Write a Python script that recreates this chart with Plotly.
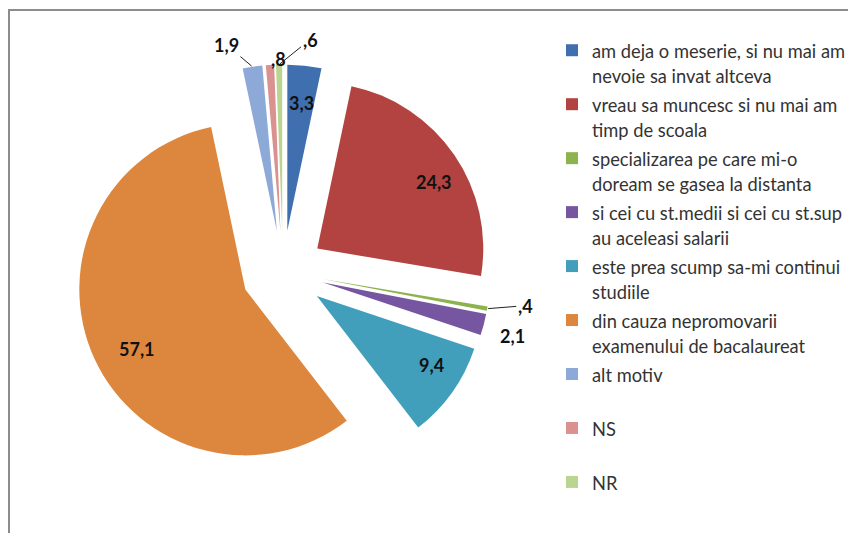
import math
import plotly.graph_objects as go

W, H = 856, 533
OFF = 8  # page margin of the html body

labels = [
    ["am deja o meserie, si nu mai am", "nevoie sa invat altceva"],
    ["vreau sa muncesc si nu mai am", "timp de scoala"],
    ["specializarea pe care mi-o", "doream se gasea la distanta"],
    ["si cei cu st.medii si cei cu st.sup", "au aceleasi salarii"],
    ["este prea scump sa-mi continui", "studiile"],
    ["din cauza nepromovarii", "examenului de bacalaureat"],
    ["alt motiv", " "],
    ["NS", " "],
    ["NR", " "],
]
values = [3.3, 24.3, 0.4, 2.1, 9.4, 57.1, 1.9, 0.8, 0.6]
colors = ["#3F6FAF", "#B34340", "#8DB34F", "#7656A0", "#419FBB",
          "#DC873D", "#8DA9D8", "#D9928F", "#B9D58F"]
# label placement: None = inside end, else (dx, dy, leader line?) from slice tip
label_off = [None, None, (38, -3, True), (29, 11, False), None,
             None, (-26, -22, True), (-1, -19, False), (31, -25, True)]


def fmt(v):
    s = f"{v:.1f}".replace(".", ",")
    return s[1:] if s.startswith("0") else s


def legend_text(lines):
    return "<br>".join("<span style='font-size:18.3px'>%s</span>" % t
                       for t in lines)


# pie box in pixels (page coords minus the body margin)
cx, cy, half, pull = 283 - OFF, 272 - OFF, 207.5, 0.25
r = half / (1 + pull)

fig = go.Figure(go.Pie(
    labels=[legend_text(l) for l in labels], values=values,
    textinfo="none", hoverinfo="percent",
    marker=dict(colors=colors, line=dict(width=0)),
    pull=pull, sort=False, direction="clockwise", rotation=0,
    domain=dict(x=[(cx - half) / W, (cx + half) / W],
                y=[1 - (cy + half) / H, 1 - (cy - half) / H]),
))

# data labels, Excel style (inside end / outside with leader lines)
total = sum(values)
cum = 0
for v, off in zip(values, label_off):
    mid = (cum + v / 2) / total * 2 * math.pi
    cum += v
    dx, dy = math.sin(mid), -math.cos(mid)
    k = pull + (0.85 if off is None else 1.0)
    px_, py_ = cx + k * r * dx, cy + k * r * dy
    ann = dict(x=px_ / W, y=1 - py_ / H, xref="paper", yref="paper",
               text="<b>%s</b>" % fmt(v), showarrow=False,
               font=dict(family="Lato", size=18, color="#111111"))
    if off is not None:
        ox, oy, leader = off
        if leader:
            ann.update(showarrow=True, ax=ox, ay=oy, arrowhead=0,
                       arrowwidth=1, arrowcolor="#222222", standoff=1)
        else:
            ann.update(xshift=ox, yshift=-oy)
    fig.add_annotation(**ann)

fig.update_layout(
    width=W, height=H,
    margin=dict(l=0, r=0, t=0, b=0, autoexpand=False),
    paper_bgcolor="white", font=dict(family="Lato", color="#333333"),
    legend=dict(x=(592 - OFF - 40) / W, y=1 - (31 - OFF) / H,
                xanchor="left", yanchor="top", valign="top",
                font=dict(size=19.6, color="#333333"),
                bgcolor="rgba(0,0,0,0)"),
    shapes=[dict(type="rect", xref="paper", yref="paper",
                 x0=1 / W, x1=1.05, y0=-0.05, y1=1 - 2 / H,
                 line=dict(color="#8C8C8C", width=2))],
)

fig.write_html("out.html")
